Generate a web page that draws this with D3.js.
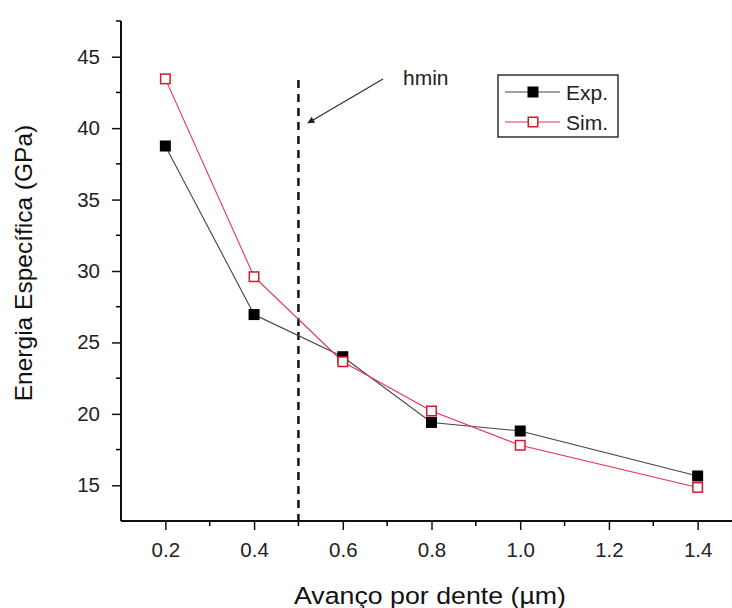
<!DOCTYPE html>
<html><head><meta charset="utf-8">
<script src="https://cdn.jsdelivr.net/npm/d3@7"></script>
<style>body{margin:0;background:#fff}svg{display:block}</style>
</head><body>
<svg id="c" width="732" height="608"></svg>
<script>
const xValues = [0.2, 0.4, 0.6, 0.8, 1.0, 1.4];
const expValues = [38.75, 26.95, 24.0, 19.4, 18.8, 15.65];
const simValues = [43.45, 29.6, 23.65, 20.2, 17.8, 14.85];
const xTickValues = [0.2, 0.4, 0.6, 0.8, 1.0, 1.2, 1.4];
const xMinorTicks = [0.3, 0.5, 0.7, 0.9, 1.1, 1.3];
const yTickValues = [15, 20, 25, 30, 35, 40, 45];
const yMinorTicks = [17.5, 22.5, 27.5, 32.5, 37.5, 42.5, 47.5];
const hminX = 0.5;
const seriesNames = ["Exp.", "Sim."];

const svg = d3.select("#c");
const font = "Liberation Sans, Arial, sans-serif";
const x = d3.scaleLinear().domain([0.1, 1.5]).range([121, 742]);
const y = d3.scaleLinear().domain([12.5, 47.5]).range([521, 21]);

// axes
const xAxis = d3.axisBottom(x).tickValues(xTickValues).tickFormat(d3.format(".1f")).tickSize(9).tickPadding(12);
const gx = svg.append("g").attr("transform", "translate(0,521)").call(xAxis);
gx.append("g").selectAll("line").data(xMinorTicks).join("line")
  .attr("x1", d => x(d)).attr("x2", d => x(d)).attr("y1", 0).attr("y2", 5).attr("stroke", "#000").attr("stroke-width", 1.5);
const yAxis = d3.axisLeft(y).tickValues(yTickValues).tickSize(9).tickPadding(12);
const gy = svg.append("g").attr("transform", "translate(121,0)").call(yAxis);
gy.append("g").selectAll("line").data(yMinorTicks).join("line")
  .attr("y1", d => y(d)).attr("y2", d => y(d)).attr("x1", 0).attr("x2", -5).attr("stroke", "#000").attr("stroke-width", 1.5);
[gx, gy].forEach(g => {
  g.select(".domain").attr("stroke", "#111").attr("stroke-width", 2);
  g.selectAll(".tick line").attr("stroke", "#111").attr("stroke-width", 1.5);
  g.selectAll(".tick text").attr("font-family", font).attr("font-size", 20.5).attr("fill", "#222");
});
gx.select(".domain").attr("d", `M${x(0.1)},0H732`);
gy.select(".domain").attr("d", `M0,${y(47.5)}V${y(12.5)}`);

// titles
svg.append("text").attr("x", 294).attr("y", 604).attr("textLength", 272).attr("lengthAdjust", "spacingAndGlyphs")
  .attr("font-family", font).attr("font-size", 24.5).attr("fill", "#111").text("Avanço por dente (µm)");
svg.append("text").attr("transform", "translate(32,263) rotate(-90)").attr("text-anchor", "middle")
  .attr("font-family", font).attr("font-size", 24.5).attr("fill", "#111").text("Energia Específica (GPa)");

// hmin dashed line
svg.append("line").attr("x1", x(hminX)).attr("x2", x(hminX)).attr("y1", 80).attr("y2", 527)
  .attr("stroke", "#111").attr("stroke-width", 2.5).attr("stroke-dasharray", "8,6");

// arrow
svg.append("defs").append("marker").attr("id", "ah").attr("viewBox", "0 0 10 10")
  .attr("refX", 9).attr("refY", 5).attr("markerWidth", 9).attr("markerHeight", 7).attr("markerUnits", "userSpaceOnUse").attr("orient", "auto")
  .append("path").attr("d", "M0,0L10,5L0,10Z").attr("fill", "#222");
svg.append("line").attr("x1", 383).attr("y1", 79).attr("x2", 308).attr("y2", 123)
  .attr("stroke", "#333").attr("stroke-width", 1.3).attr("marker-end", "url(#ah)");
svg.append("text").attr("x", 403).attr("y", 85).attr("font-family", font).attr("font-size", 21).attr("fill", "#222").text("hmin");

// series
const line = d3.line().x(d => x(d[0])).y(d => y(d[1]));
const expData = xValues.map((v, i) => [v, expValues[i]]);
const simData = xValues.map((v, i) => [v, simValues[i]]);
svg.append("path").datum(expData).attr("d", line).attr("fill", "none").attr("stroke", "#444").attr("stroke-width", 1.1);
svg.append("path").datum(simData).attr("d", line).attr("fill", "none").attr("stroke", "#e8324f").attr("stroke-width", 1.1);
const s = 11;
svg.append("g").selectAll("rect").data(expData).join("rect")
  .attr("x", d => x(d[0]) - s / 2).attr("y", d => y(d[1]) - s / 2).attr("width", s).attr("height", s).attr("fill", "#000");
svg.append("g").selectAll("rect").data(simData).join("rect")
  .attr("x", d => x(d[0]) - s / 2 + 0.75).attr("y", d => y(d[1]) - s / 2 + 0.75).attr("width", s - 1.5).attr("height", s - 1.5)
  .attr("fill", "#fff").attr("stroke", "#d8162e").attr("stroke-width", 1.5);

// legend
const lg = svg.append("g");
lg.append("rect").attr("x", 498).attr("y", 75).attr("width", 120).attr("height", 62).attr("fill", "#fff").attr("stroke", "#111").attr("stroke-width", 1.3);
const lgColors = [["#444", "#000", "#000"], ["#e8324f", "#fff", "#d8162e"]];
seriesNames.forEach((n, i) => {
  const yy = 92 + i * 30;
  lg.append("line").attr("x1", 505).attr("x2", 560).attr("y1", yy).attr("y2", yy).attr("stroke", lgColors[i][0]).attr("stroke-width", 1.1);
  if (i === 0) lg.append("rect").attr("x", 533 - s / 2).attr("y", yy - s / 2).attr("width", s).attr("height", s).attr("fill", "#000");
  else lg.append("rect").attr("x", 533 - s / 2 + 0.75).attr("y", yy - s / 2 + 0.75).attr("width", s - 1.5).attr("height", s - 1.5).attr("fill", "#fff").attr("stroke", lgColors[i][2]).attr("stroke-width", 1.5);
  lg.append("text").attr("x", 566).attr("y", yy + 7.5).attr("font-family", font).attr("font-size", 21).attr("fill", "#222").text(n);
});
</script>
</body></html>
